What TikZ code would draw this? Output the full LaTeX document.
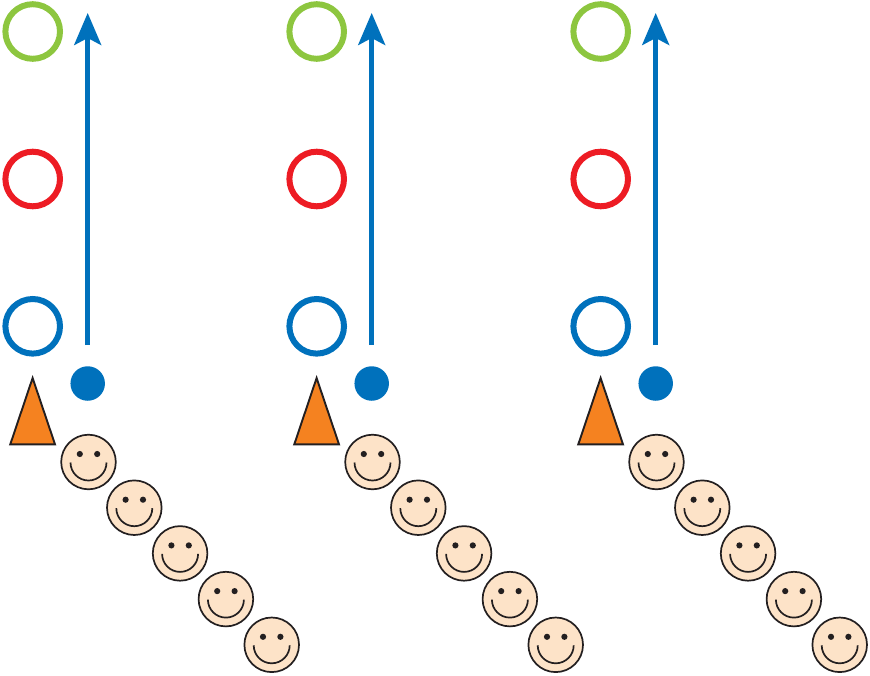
\documentclass[tikz,border=0pt]{standalone}
\usetikzlibrary{arrows.meta}
\definecolor{ringgreen}{HTML}{8DC63F}
\definecolor{ringred}{HTML}{ED1C24}
\definecolor{blueline}{HTML}{0071BC}
\definecolor{coneorange}{HTML}{F58220}
\definecolor{skin}{HTML}{FDE3C8}
\definecolor{ink}{HTML}{231F20}
\tikzset{
  x=1pt,y=-1pt,
  ring/.style={circle,draw=#1,line width=6pt,minimum size=54.6pt,inner sep=0pt,outer sep=0pt},
  dotmark/.style={circle,fill=blueline,minimum size=34.5pt,inner sep=0pt},
  facebody/.style={circle,draw=ink,fill=skin,line width=1.7pt,minimum size=54.6pt,inner sep=0pt},
  runarrow/.style={draw=blueline,line width=4.6pt,-{Stealth[length=32pt,width=27pt,inset=7pt]}},
  conemark/.style={draw=ink,fill=coneorange,line width=1.9pt,miter limit=10},
}
\newcommand{\smiley}[3]{%
  \node[facebody] (#3) at (#1,#2) {};
  \fill[ink] (#1-8.7,#2-8) circle (3.1);
  \fill[ink] (#1+8.7,#2-8) circle (3.1);
  \draw[ink,line width=1.7pt] (#1-18,#2+0.5) arc[start angle=180,end angle=360,x radius=18pt,y radius=18pt];
}
\begin{document}
\begin{tikzpicture}
\useasboundingbox (0,0) rectangle (870,675);
\foreach \i/\dx in {a/0,b/284,c/568}{
  \begin{scope}[xshift=\dx pt]
    \node[ring=ringgreen] (green\i) at (32.7,31.5) {};
    \node[ring=ringred] (red\i) at (32.7,179) {};
    \node[ring=blueline] (blue\i) at (32.7,326.3) {};
    \coordinate (start\i) at (87.7,345);
    \coordinate (tip\i) at (87.7,13);
    \draw[runarrow] (start\i) -- (tip\i);
    \node[dotmark] (dot\i) at (87.7,383.5) {};
    \draw[conemark] (32.6,378) -- (55,444.3) -- (10.3,444.3) -- cycle;
    \smiley{88.5}{462}{f\i1}
    \smiley{134.3}{507.7}{f\i2}
    \smiley{180.1}{553.4}{f\i3}
    \smiley{225.9}{599.1}{f\i4}
    \smiley{271.7}{644.8}{f\i5}
  \end{scope}
}
\end{tikzpicture}
\end{document}
